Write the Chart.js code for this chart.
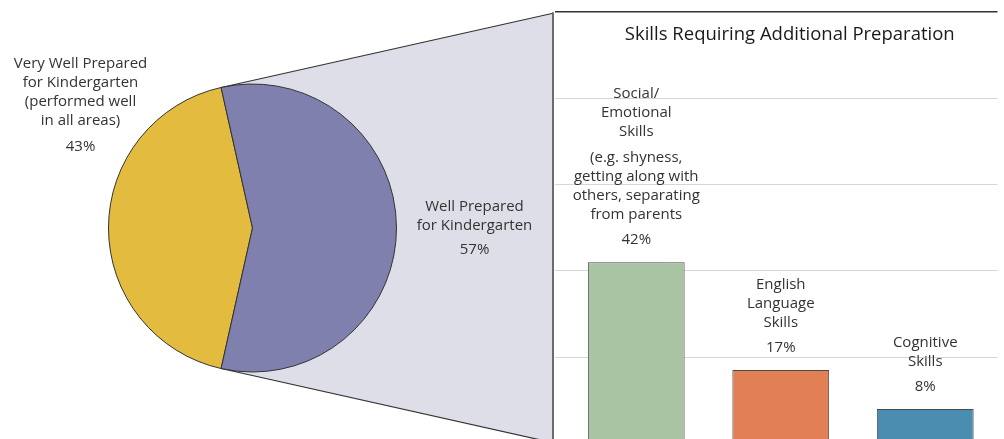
<!DOCTYPE html>
<html>
<head>
<meta charset="utf-8">
<script src="https://cdn.jsdelivr.net/npm/chart.js@4.4.0/dist/chart.umd.min.js"></script>
<style>
  body { margin: 0; background: #fff; }
  #wrap { position: relative; width: 1004px; height: 439px; overflow: hidden; }
  #pieChart { position: absolute; left: 0; top: 0; }
  #barChart { position: absolute; left: 553px; top: 0; }
</style>
</head>
<body>
<div id="wrap">
  <canvas id="pieChart" width="1004" height="439"></canvas>
  <canvas id="barChart" width="451" height="460"></canvas>
</div>
<script>
// pie: overall readiness
const pieLabels = [
  ["Very Well Prepared", "for Kindergarten", "(performed well", "in all areas)"],
  ["Well Prepared", "for Kindergarten"]
];
const pieValues = [43, 57];
const pieColors = ["#e2bb3f", "#7f80ad"];

// bars: skills needing more preparation
const skillLabels = [
  ["Social/", "Emotional", "Skills", "", "(e.g. shyness,", "getting along with", "others, separating", "from parents"],
  ["English", "Language", "Skills"],
  ["Cognitive", "Skills"]
];
const skillValues = [42, 17, 8];
const skillColors = ["#a8c4a2", "#e17f55", "#4a8db0"];

const chartTitle = "Skills Requiring Additional Preparation";
const boxLeft = 553; // left edge of the bar panel
const FONT = '"Open Sans", sans-serif';
const TEXT = "#333";

function drawLines(ctx, lines, x, pctY, pct, gap) {
  ctx.fillText(pct, x, pctY);
  let y = pctY - gap;
  for (let i = lines.length - 1; i >= 0; i--) {
    if (lines[i] === "") { y -= 7; continue; }
    ctx.fillText(lines[i], x, y);
    y -= 19;
  }
}

// lavender connector from the pie to the bar panel
const connector = {
  id: "connector",
  beforeDatasetsDraw(chart) {
    const c = chart.ctx;
    const arc = chart.getDatasetMeta(0).data[0];
    const { x, y, outerRadius: r, startAngle, endAngle } = arc;
    const hit = (a) => {
      const px = x + r * Math.cos(a), py = y + r * Math.sin(a);
      const slope = -Math.cos(a) / Math.sin(a);
      return [px, py, py + slope * (boxLeft - px)];
    };
    const [tx, ty, tY] = hit(endAngle);
    const [bx, by, bY] = hit(startAngle);
    c.save();
    c.beginPath();
    c.moveTo(tx, ty);
    c.lineTo(boxLeft, tY);
    c.lineTo(boxLeft, bY);
    c.lineTo(bx, by);
    c.lineTo(x, y);
    c.closePath();
    c.fillStyle = "#dedee8";
    c.fill();
    c.strokeStyle = "#333";
    c.lineWidth = 1.2;
    c.beginPath();
    c.moveTo(tx, ty); c.lineTo(boxLeft, tY);
    c.moveTo(bx, by); c.lineTo(boxLeft, bY);
    c.stroke();
    c.strokeStyle = "#6b6b6b";
    c.lineWidth = 2;
    c.beginPath();
    c.moveTo(boxLeft, tY - 1);
    c.lineTo(boxLeft, chart.height);
    c.stroke();
    c.restore();
  },
  afterDatasetsDraw(chart) {
    const c = chart.ctx;
    const arc = chart.getDatasetMeta(0).data[0];
    c.save();
    c.font = "15px " + FONT;
    c.fillStyle = TEXT;
    c.textAlign = "center";
    c.textBaseline = "middle";
    drawLines(c, pieLabels[0], arc.x - 172, arc.y - 81, pieValues[0] + "%", 26);
    drawLines(c, pieLabels[1], arc.x + 222, arc.y + 22, pieValues[1] + "%", 24);
    c.restore();
  }
};

new Chart(document.getElementById("pieChart"), {
  type: "pie",
  data: {
    labels: pieLabels.map(l => l.join(" ")),
    datasets: [{
      data: pieValues,
      backgroundColor: pieColors,
      borderColor: "#333",
      borderWidth: 1,
    }],
  },
  options: {
    responsive: false,
    animation: false,
    // first slice centred on the left side
    rotation: 270 - 360 * pieValues[0] / 100 / 2,
    layout: { padding: { left: 108, top: 83.5, right: 607, bottom: 66.5 } },
    plugins: { legend: { display: false }, tooltip: { enabled: false } },
  },
  plugins: [connector],
});

// title + labels above bars
const barText = {
  id: "barText",
  afterDatasetsDraw(chart) {
    const c = chart.ctx;
    const a = chart.chartArea;
    c.save();
    c.fillStyle = "#1a1a1a";
    c.textAlign = "center";
    c.textBaseline = "middle";
    c.font = "18.5px " + FONT;
    c.fillText(chartTitle, (a.left + a.right) / 2 + 9, 35);
    c.font = "15px " + FONT;
    c.fillStyle = TEXT;
    chart.getDatasetMeta(0).data.forEach((bar, i) => {
      drawLines(c, skillLabels[i], bar.x, bar.y - 22, skillValues[i] + "%", 25);
    });
    c.restore();
  }
};

new Chart(document.getElementById("barChart"), {
  type: "bar",
  data: {
    labels: skillLabels.map(l => l.join(" ")),
    datasets: [{
      data: skillValues,
      backgroundColor: skillColors,
      borderColor: "#4a4a4a",
      borderWidth: 1,
      barPercentage: 0.67,
      categoryPercentage: 1,
    }],
  },
  options: {
    responsive: false,
    animation: false,
    layout: { padding: { left: 2, right: 6.5, top: 12, bottom: 16.6 } },
    plugins: { legend: { display: false }, tooltip: { enabled: false } },
    scales: {
      x: { display: false },
      y: {
        min: 0,
        max: 100,
        ticks: { display: false, stepSize: 20 },
        border: { display: false },
        grid: {
          color: (ctx) => ctx.tick && ctx.tick.value === 100 ? "#333" : "#d6d6d6",
          lineWidth: (ctx) => ctx.tick && ctx.tick.value === 100 ? 1.5 : 1,
          tickLength: 9,
        },
      },
    },
  },
  plugins: [barText],
});
</script>
</body>
</html>
